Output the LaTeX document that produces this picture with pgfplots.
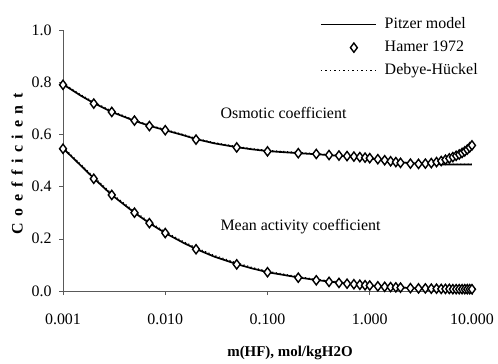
\documentclass[border=0pt]{standalone}
\usepackage{fontspec}
\setmainfont{Liberation Serif}
\usepackage{pgfplots}
\pgfplotsset{compat=1.18}
\pgfplotsset{
  lineleg/.style={legend image code/.code={\draw[##1] (0bp,0bp) -- (55bp,0bp);}},
  markleg/.style={legend image code/.code={\draw[##1] plot coordinates {(33bp,0bp)};}},
}
\begin{document}
\fontsize{16}{19}\selectfont
\begin{tikzpicture}
\useasboundingbox (-63bp,-73bp) rectangle (435bp,291bp);
\begin{axis}[
  at={(0,0)}, anchor=south west,
  scale only axis, width=409bp, height=261bp,
  xmode=log, xmin=0.001, xmax=10, ymin=0, ymax=1,
  axis x line*=bottom, axis y line*=left,
  axis line style={gray!70!black, line width=0.6bp},
  tick style={gray!70!black, line width=0.6bp},
  tick align=outside, major tick length=4bp,
  xtick={0.001,0.01,0.1,1,10},
  xticklabels={0.001,0.010,0.100,1.000,10.000},
  minor xtick={}, xminorticks=false,
  ytick={0,0.2,0.4,0.6,0.8,1.0},
  yticklabel style={anchor=east, xshift=-2bp, /pgf/number format/fixed, /pgf/number format/fixed zerofill, /pgf/number format/precision=1, /pgf/number format/assume math mode=true},
  xticklabel style={anchor=center, yshift=-24bp},
  xlabel={\fontsize{15}{18}\selectfont\bfseries m(HF), mol/kgH2O},
  ylabel={\fontsize{16}{18}\selectfont\bfseries\addfontfeatures{LetterSpace=42}Coefficient},
  x label style={at={(axis description cs:0.555,-0.238)}, anchor=center},
  y label style={at={(axis description cs:-0.112,0.487)}, anchor=center},
  clip=false,
  legend style={draw=none, fill=none, at={(rel axis cs:0.628,1.05)}, anchor=north west,
    inner sep=0pt, row sep=8bp, nodes={inner sep=0pt, text height=11bp, text depth=4bp},
    /tikz/every odd column/.append style={column sep=8bp}},
  legend cell align=left,
]
% Debye-Huckel (dotted)
\addplot[forget plot, black, line width=1bp, dash pattern=on 1.2bp off 2.5bp] coordinates {
(0.001,0.796) (0.0015,0.752) (0.002,0.724) (0.003,0.690) (0.005,0.655) (0.007,0.636) (0.01,0.619)
(0.015,0.600) (0.02,0.585) (0.03,0.569) (0.05,0.554) (0.07,0.546) (0.1,0.539) (0.2,0.531)
(0.3,0.526) (0.5,0.520) (0.7,0.515) (1,0.509) (1.5,0.500) (2,0.494) (3,0.489) (5,0.486) (10,0.486)};
\addplot[forget plot, black, line width=1bp, dash pattern=on 1.2bp off 2.5bp] coordinates {
(0.001,0.551) (0.0015,0.485) (0.002,0.437) (0.003,0.373) (0.005,0.305) (0.007,0.265) (0.01,0.227)
(0.015,0.190) (0.02,0.166) (0.03,0.137) (0.05,0.108) (0.07,0.091) (0.1,0.076) (0.2,0.055)
(0.3,0.045) (0.5,0.035) (0.7,0.029) (1,0.023) (1.5,0.018) (2,0.015) (3,0.012) (5,0.010) (10,0.008)};
% Hamer 1972 markers
\addplot[forget plot, only marks, mark=diamond*, mark size=4.6bp, mark options={fill=white, draw=black, line width=1.4bp}] coordinates {
(0.001,0.790) (0.002,0.718) (0.003,0.686) (0.005,0.653) (0.007,0.632) (0.01,0.616) (0.02,0.580)
(0.05,0.550) (0.1,0.535) (0.2,0.528) (0.3,0.525) (0.4,0.521) (0.5,0.519) (0.6,0.517) (0.7,0.515)
(0.8,0.513) (0.9,0.511) (1.0,0.509) (1.2,0.505) (1.4,0.501) (1.6,0.497) (1.8,0.494) (2.0,0.491)
(2.5,0.488) (3.0,0.487) (3.5,0.488) (4.0,0.490) (4.5,0.494) (5.0,0.498) (5.5,0.503) (6.0,0.508)
(6.5,0.513) (7.0,0.518) (7.5,0.523) (8.0,0.529) (8.5,0.535) (9.0,0.542) (9.5,0.550) (10.0,0.558)};
\addplot[forget plot, only marks, mark=diamond*, mark size=4.6bp, mark options={fill=white, draw=black, line width=1.4bp}] coordinates {
(0.001,0.545) (0.002,0.430) (0.003,0.368) (0.005,0.300) (0.007,0.260) (0.01,0.222) (0.02,0.160)
(0.05,0.102) (0.1,0.072) (0.2,0.051) (0.3,0.041) (0.4,0.035) (0.5,0.031) (0.6,0.028) (0.7,0.026)
(0.8,0.024) (0.9,0.022) (1.0,0.021) (1.2,0.018) (1.4,0.016) (1.6,0.015) (1.8,0.014) (2.0,0.013)
(2.5,0.011) (3.0,0.010) (3.5,0.010) (4.0,0.009) (4.5,0.009) (5.0,0.008) (5.5,0.008) (6.0,0.008)
(6.5,0.007) (7.0,0.007) (7.5,0.007) (8.0,0.007) (8.5,0.007) (9.0,0.007) (9.5,0.007) (10.0,0.007)};
% Pitzer model
\addplot[forget plot, black, line width=1.7bp] coordinates {
(0.001,0.792) (0.0015,0.748) (0.002,0.720) (0.003,0.686) (0.005,0.652) (0.007,0.633) (0.01,0.616)
(0.015,0.597) (0.02,0.582) (0.03,0.566) (0.05,0.551) (0.07,0.543) (0.1,0.536) (0.2,0.528)
(0.3,0.524) (0.5,0.518) (0.7,0.514) (1,0.508) (1.5,0.499) (2,0.493) (3,0.488) (4,0.486) (5,0.485) (7,0.485) (10,0.485)};
\addplot[forget plot, black, line width=1.7bp] coordinates {
(0.001,0.547) (0.0015,0.480) (0.002,0.432) (0.003,0.368) (0.005,0.300) (0.007,0.260) (0.01,0.222)
(0.015,0.185) (0.02,0.161) (0.03,0.132) (0.05,0.103) (0.07,0.087) (0.1,0.072) (0.2,0.052)
(0.3,0.042) (0.5,0.032) (0.7,0.026) (1,0.021) (1.5,0.016) (2,0.013) (3,0.010) (5,0.008) (10,0.006)};
% legend
\addlegendimage{lineleg, black, line width=1.7bp}
\addlegendentry{Pitzer model}
\addlegendimage{markleg, only marks, mark=diamond*, mark size=4.6bp, mark options={fill=white, draw=black, line width=1.4bp}}
\addlegendentry{Hamer 1972}
\addlegendimage{lineleg, black, line width=1.2bp, dash pattern=on 1.5bp off 3bp}
\addlegendentry{Debye-Hückel}
\node[anchor=west, inner sep=0pt] at (axis cs:0.0346,0.682) {Osmotic coefficient};
\node[anchor=west, inner sep=0pt] at (axis cs:0.0346,0.245) {Mean activity coefficient};
\end{axis}
\end{tikzpicture}
\end{document}
